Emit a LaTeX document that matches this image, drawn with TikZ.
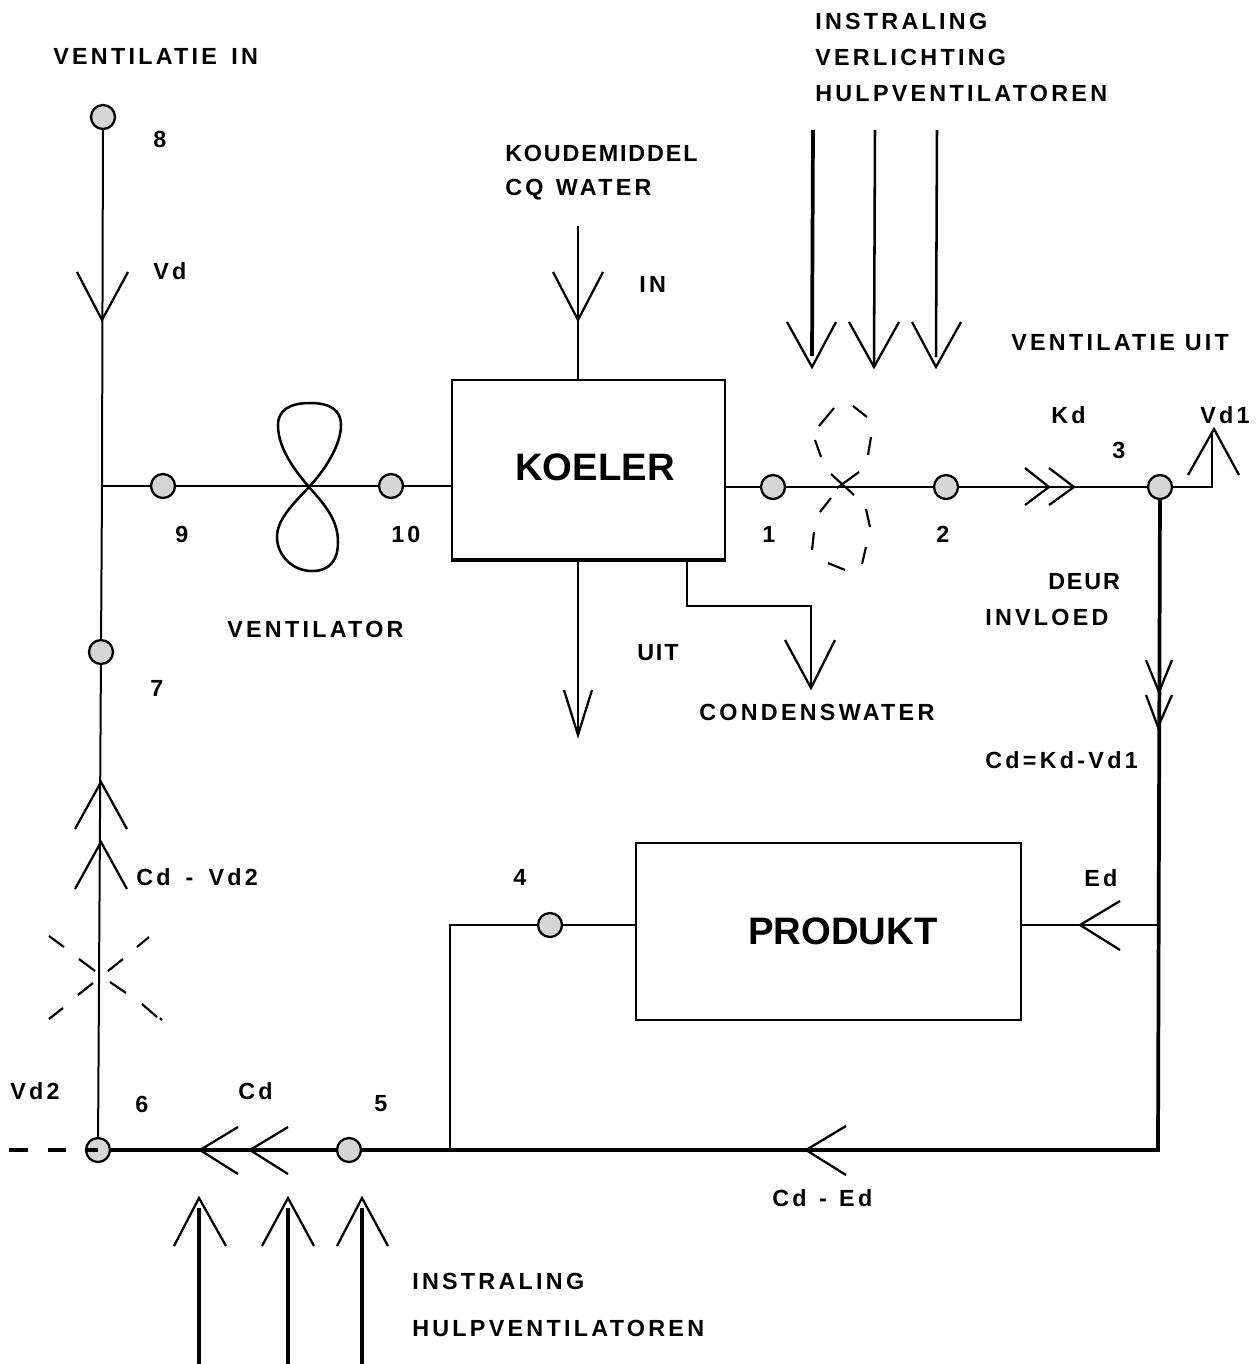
\documentclass[tikz,border=0pt]{standalone}
\usepackage{fontspec}
\setmainfont[LetterSpace=14]{Liberation Sans}
\newfontfamily\bigfont[Scale=1]{Liberation Sans}
\newfontfamily\tightfont[LetterSpace=8]{Liberation Sans}
\begin{document}
\begin{tikzpicture}[x=0.75pt,y=-0.75pt,
  lab/.style={anchor=west,inner sep=0pt,font=\fontsize{17.5}{20}\selectfont\bfseries},
  big/.style={anchor=center,inner sep=0pt,font=\fontsize{28.7}{32}\bigfont\bfseries},
  line/.style={draw=black,line width=1.9pt},
  slim/.style={draw=black,line width=1.5pt},
  heavy/.style={draw=black,line width=2.8pt},
  wing/.style={draw=black,line width=1.7pt,line join=miter},
  dashbit/.style={draw=black,line width=1.6pt},
  junc/.style={circle,draw=black,line width=1.7pt,fill=black!16,minimum size=18pt,inner sep=0pt},
  box/.style={draw=black,line width=1.7pt,fill=white,inner sep=0pt}]
\useasboundingbox (0,0) rectangle (1258,1364);
\fill[white] (0,0) rectangle (1258,1364);

% boxes
\node[box,minimum width=204.75pt,minimum height=134.25pt] (koeler) at (588.5,469.5) {};
\node[box,minimum width=288.75pt,minimum height=132.75pt] (produkt) at (828.5,931.5) {};
\draw[heavy] (koeler.south west) -- (koeler.south east);

% connector-only points
\coordinate (top8) at (103,117);
\coordinate (tee) at (102,486);
\coordinate (inT) at (578,226);
\coordinate (inB) at (578,380);
\coordinate (uitT) at (578,559);
\coordinate (uitB) at (578,735);
\coordinate (cw1) at (687,559);
\coordinate (cw2) at (687,606);
\coordinate (cw3) at (811,606);
\coordinate (cw4) at (811,688);
\coordinate (vdc) at (1212,487);
\coordinate (vdt) at (1212,431);
\coordinate (corner) at (1158,1150);
\coordinate (edj) at (1158,925);
\coordinate (c4) at (450,925);
\coordinate (c5) at (450,1150);
\coordinate (kl) at (452,486);
\coordinate (kr) at (725,487);
\coordinate (pl) at (636,925);
\coordinate (pr) at (1021,925);
\coordinate (d1) at (9,1150);
\coordinate (d2) at (28,1150);
\coordinate (d3) at (48,1150);
\coordinate (d4) at (66,1150);
\coordinate (d5) at (85,1150);
\coordinate (d6) at (98,1150);
\coordinate (m7) at (101,652);

% lines under junctions
\draw[slim] (top8) -- (tee);
\draw[slim] (tee) -- (m7);
\draw[slim] (m7) -- (d6);
\draw[line] (tee) -- (kl);
\draw[line] (kr) -- (vdc) -- (vdt);
\draw[line] (inT) -- (inB);
\draw[line] (uitT) -- (uitB);
\draw[line] (cw1) -- (cw2) -- (cw3) -- (cw4);
\draw[heavy] (1160,487) -- (corner) -- (d6);
\draw[line] (edj) -- (pr);
\draw[line] (pl) -- (c4) -- (c5);

% junctions
\node[junc] (n8) at (top8) {};
\node[junc] (n9) at (163,486) {};
\node[junc] (n10) at (391,486) {};
\node[junc] (n1) at (773,487) {};
\node[junc] (n2) at (946,487) {};
\node[junc] (n3) at (1160,487) {};
\node[junc] (n7) at (m7) {};
\node[junc] (n4) at (550,925) {};
\node[junc] (n5) at (349,1150) {};
\node[junc] (n6) at (d6) {};

% dashes to the left of 6
\draw[heavy] (d1) -- (d2);
\draw[heavy] (d3) -- (d4);
\draw[heavy] (d5) -- (d6);

% fan (solid)
\draw[line] (309,487) .. controls (290,465) and (278,445) .. (278,425)
  .. controls (278,410) and (290,403) .. (310,403)
  .. controls (330,403) and (341,410) .. (341,425)
  .. controls (341,445) and (325,470) .. (309,487)
  .. controls (292,505) and (277,520) .. (277,537)
  .. controls (277,555) and (292,571) .. (312,571)
  .. controls (330,571) and (338,560) .. (338,542)
  .. controls (338,520) and (325,505) .. (309,487);

% fan (dashed)
\foreach \ax/\ay/\bx/\by in {819/426/834/408,853/406/867/417,815/440/821/457,871/437/868/455,
  831/474/854/495,859/472/837/488,831/498/820/512,866/509/870/527,
  814/532/812/550,866/547/862/564,828/563/845/570}
  \draw[dashbit] (\ax,\ay) -- (\bx,\by);

% throttle cross
\foreach \ax/\ay/\bx/\by in {49/936/64/947,79/959/95/971,110/982/126/993,142/1004/157/1017,
  149/937/137/947,123/959/108/971,93/983/78/995,63/1008/49/1019,160/1018/162/1020}
  \draw[dashbit] (\ax,\ay) -- (\bx,\by);

% heat input arrows, top
\draw[heavy] (813,130) -- (812,356);
\draw[line] (875,130) -- (874,367);
\draw[line] (937,130) -- (936,357);
\draw[wing] (787,322) -- (812,367) -- (836,322);
\draw[wing] (849,322) -- (874,367) -- (899,322);
\draw[wing] (912,322) -- (936,367) -- (961,322);

% heat input arrows, bottom
\draw[heavy] (199,1208) -- (199,1364);
\draw[heavy] (288,1208) -- (288,1364);
\draw[heavy] (362,1208) -- (362,1364);
\draw[wing] (174,1246) -- (199,1198) -- (226,1246);
\draw[wing] (262,1246) -- (288,1198) -- (314,1246);
\draw[wing] (337,1246) -- (362,1198) -- (388,1246);

% arrowheads on lines
\draw[wing] (77,272) -- (102,320) -- (128,272);
\draw[wing] (553,272) -- (578,320) -- (603,272);
\draw[wing] (564,690) -- (578,735) -- (592,690);
\draw[wing] (785,640) -- (811,688) -- (835,640);
\draw[wing] (1025,468) -- (1049,487) -- (1025,505);
\draw[wing] (1049,468) -- (1074,487) -- (1049,505);
\draw[wing] (1188,475) -- (1214,429) -- (1239,475);
\draw[wing] (1146,660) -- (1159,692) -- (1172,660);
\draw[wing] (1146,695) -- (1158,727) -- (1172,695);
\draw[wing] (1120,901) -- (1080,925) -- (1120,950);
\draw[wing] (846,1126) -- (806,1150) -- (846,1175);
\draw[wing] (238,1127) -- (200,1150) -- (238,1174);
\draw[wing] (288,1127) -- (250,1150) -- (288,1174);
\draw[wing] (75,829) -- (101,782) -- (127,829);
\draw[wing] (75,889) -- (101,842) -- (127,889);

% labels
\node[lab] (t1) at (53,56) {VENTILATIE\hspace{3.5pt} IN};
\node[lab] (t2) at (815,21) {INSTRALING};
\node[lab] (t3) at (815,57) {VERLICHTING};
\node[lab] (t4) at (815,93) {HULPVENTILATOREN};
\node[lab] (t5) at (153,139) {8};
\node[lab] (t6) at (505,153) {\tightfont\bfseries KOUDEMIDDEL};
\node[lab] (t7) at (505,190) {CQ\hspace{2pt} WATER};
\node[lab] (t8) at (153,271) {Vd};
\node[lab] (t9) at (639,284) {IN};
\node[lab] (t10) at (1011,343) {VENTILATIE UIT};
\node[lab] (t11) at (1051,415) {Kd};
\node[lab] (t12) at (1200,415) {Vd1};
\node[lab] (t13) at (1112,450) {3};
\node[big] (t14) at (595,467) {KOELER};
\node[lab] (t15) at (175,534) {9};
\node[lab] (t16) at (391,534) {10};
\node[lab] (t17) at (762,534) {1};
\node[lab] (t18) at (936,534) {2};
\node[lab] (t19) at (227,629) {VENTILATOR};
\node[lab] (t20) at (1048,582) {\tightfont\bfseries DEUR};
\node[lab] (t21) at (985,617) {INVLOED};
\node[lab] (t22) at (637,653) {\tightfont\bfseries UIT};
\node[lab] (t23) at (150,688) {7};
\node[lab] (t24) at (699,712) {CONDENSWATER};
\node[lab] (t25) at (985,760) {Cd=Kd-Vd1};
\node[lab] (t26) at (136,877) {Cd\hspace{4pt} -\hspace{4pt} Vd2};
\node[lab] (t27) at (513,877) {4};
\node[lab] (t28) at (1084,878) {Ed};
\node[big] (t29) at (843,931) {PRODUKT};
\node[lab] (t30) at (10,1091) {Vd2};
\node[lab] (t31) at (135,1104) {6};
\node[lab] (t32) at (238,1091) {Cd};
\node[lab] (t33) at (374,1104) {5};
\node[lab] (t34) at (772,1198) {Cd\hspace{2pt} -\hspace{2pt} Ed};
\node[lab] (t35) at (412,1281) {INSTRALING};
\node[lab] (t36) at (412,1328) {HULPVENTILATOREN};
\end{tikzpicture}
\end{document}
